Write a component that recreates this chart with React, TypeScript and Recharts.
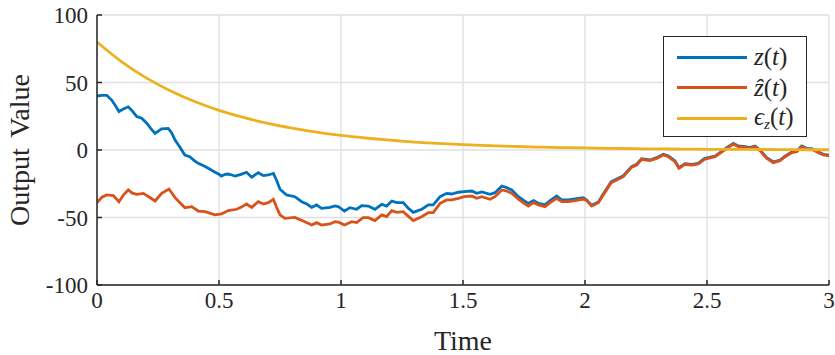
import React from 'react';
import { LineChart, Line, XAxis, YAxis, CartesianGrid, Legend } from 'recharts';

const xTicks = [0, 0.5, 1, 1.5, 2, 2.5, 3];
const yTicks = [-100, -50, 0, 50, 100];

const zT = [0, 0.02, 0.04, 0.06, 0.075, 0.09, 0.108, 0.128, 0.142, 0.163, 0.183, 0.204, 0.22, 0.238, 0.265, 0.292, 0.305, 0.32, 0.34, 0.36, 0.38, 0.4, 0.415, 0.443, 0.465, 0.484, 0.5, 0.51, 0.525, 0.538, 0.552, 0.566, 0.59, 0.613, 0.634, 0.661, 0.682, 0.702, 0.723, 0.735, 0.75, 0.777, 0.811, 0.839, 0.86, 0.88, 0.9, 0.92, 0.955, 0.975, 0.99, 1.014, 1.037, 1.064, 1.085, 1.112, 1.139, 1.167, 1.187, 1.208, 1.228, 1.255, 1.275, 1.296, 1.331, 1.358, 1.378, 1.406, 1.433, 1.454, 1.481, 1.505, 1.536, 1.556, 1.577, 1.611, 1.631, 1.659, 1.679, 1.7, 1.727, 1.75, 1.768, 1.789, 1.809, 1.836, 1.857, 1.884, 1.904, 1.932, 1.959, 1.993, 2.007, 2.027, 2.055, 2.075, 2.107, 2.13, 2.157, 2.191, 2.212, 2.232, 2.266, 2.294, 2.321, 2.342, 2.369, 2.385, 2.41, 2.437, 2.464, 2.489, 2.505, 2.533, 2.553, 2.581, 2.608, 2.628, 2.656, 2.675, 2.697, 2.717, 2.745, 2.772, 2.799, 2.82, 2.847, 2.868, 2.888, 2.909, 2.929, 2.957, 2.977, 3.0];
const zV = [40, 40.5, 40.5, 37, 33, 28.5, 30.4, 32, 29.5, 24.7, 23.5, 19.8, 16, 12.3, 15.6, 16, 13, 7.4, 2, -3.7, -5, -8, -9.9, -12.3, -14.5, -16.5, -18, -19.3, -18, -17.8, -18.5, -19.3, -18, -16.5, -20.2, -16.8, -19, -18.5, -17.3, -22, -29.1, -33.3, -34.6, -38.3, -40, -42.5, -40.7, -43.2, -42.5, -41.5, -42, -45.2, -42.7, -43.9, -41.2, -41.5, -43.9, -40.2, -41.5, -37.8, -39, -39, -43, -46.2, -43.9, -40.7, -40.7, -34.6, -32.1, -32.6, -31.3, -30.9, -30.4, -32.1, -31.1, -32.8, -31.6, -26.7, -27.9, -29.6, -34.6, -37.5, -39.5, -37.5, -39.5, -40.7, -37.5, -34.1, -37, -37, -36.3, -35.3, -37, -41, -38.5, -32.5, -23.5, -21.5, -19, -12.3, -10.5, -6.5, -7.4, -5.7, -3.2, -4.5, -8.1, -13.1, -10.1, -10.6, -9.9, -6.4, -5.7, -4.5, -2, 1.7, 4.9, 3, 2.5, 1.7, 3, 0, -5.7, -8.9, -7.4, -4.5, -1.5, -0.7, 3, 1.2, 1, -1.5, -3.2, -3.9];

const zhT = [0, 0.02, 0.04, 0.067, 0.09, 0.11, 0.128, 0.145, 0.163, 0.19, 0.215, 0.238, 0.265, 0.295, 0.32, 0.34, 0.36, 0.388, 0.415, 0.443, 0.465, 0.484, 0.51, 0.538, 0.572, 0.59, 0.613, 0.634, 0.661, 0.682, 0.702, 0.723, 0.735, 0.75, 0.77, 0.811, 0.852, 0.88, 0.9, 0.92, 0.955, 0.975, 0.99, 1.014, 1.044, 1.064, 1.091, 1.112, 1.139, 1.167, 1.187, 1.208, 1.228, 1.255, 1.275, 1.296, 1.331, 1.358, 1.378, 1.406, 1.433, 1.454, 1.481, 1.505, 1.536, 1.556, 1.577, 1.611, 1.631, 1.659, 1.679, 1.7, 1.727, 1.75, 1.768, 1.789, 1.809, 1.836, 1.857, 1.884, 1.904, 1.932, 1.959, 1.993, 2.007, 2.027, 2.055, 2.075, 2.107, 2.13, 2.157, 2.191, 2.212, 2.232, 2.266, 2.294, 2.321, 2.342, 2.369, 2.385, 2.41, 2.437, 2.464, 2.489, 2.505, 2.533, 2.553, 2.581, 2.608, 2.628, 2.656, 2.675, 2.697, 2.717, 2.745, 2.772, 2.799, 2.82, 2.847, 2.868, 2.888, 2.909, 2.929, 2.957, 2.977, 3.0];
const zhV = [-39, -35, -33.3, -33.8, -38.3, -33, -29.6, -32, -32.8, -32.1, -35, -37.8, -32.1, -28.9, -35.3, -39, -42.7, -42, -45.2, -45.7, -47, -48.1, -47.4, -44.9, -43.9, -42.5, -40, -42.5, -38.3, -40, -39, -36.5, -42, -48.1, -50.6, -49.9, -53.1, -55.6, -53.8, -55.6, -54.8, -53.1, -53.5, -55.6, -53.1, -53.8, -50.1, -50.1, -52.3, -48.1, -49.4, -44.9, -46.2, -45.7, -49, -52.3, -49.4, -46.4, -46.4, -39.5, -37, -37, -35.8, -34.6, -34.1, -35.8, -34.6, -36.5, -34.6, -29.6, -30.4, -32.1, -36.5, -39.5, -41.5, -39, -40.7, -42, -39, -35.8, -38.3, -38.3, -37.5, -36.3, -37.5, -41.5, -39, -33.3, -24.2, -22.2, -19.8, -12.8, -11.1, -6.9, -7.9, -6.2, -3.7, -5, -8.6, -13.6, -10.6, -11.1, -10.4, -6.9, -6.2, -5, -2.5, 1.2, 4.4, 2.5, 2, 1.2, 2.5, -0.5, -6.2, -9.4, -7.9, -5, -2, -1.2, 2.5, 0.7, 0.5, -2, -3.7, -4.4];

const eT = [0, 0.1, 0.2, 0.3, 0.4, 0.5, 0.6, 0.7, 0.8, 0.9, 1.0, 1.1, 1.2, 1.3, 1.4, 1.5, 1.6, 1.7, 1.8, 1.9, 2.0, 2.1, 2.2, 2.3, 2.4, 2.5, 2.6, 2.7, 2.8, 2.9, 3.0];
const eV = [80, 65.5, 53.6, 43.9, 35.9, 29.4, 24.1, 19.7, 16.2, 13.2, 10.8, 8.9, 7.3, 5.9, 4.9, 4.0, 3.3, 2.7, 2.2, 1.8, 1.5, 1.2, 1.0, 0.8, 0.7, 0.5, 0.4, 0.4, 0.3, 0.2, 0.2];

const zData = zT.map((t, i) => ({ t, v: zV[i] }));
const zhData = zhT.map((t, i) => ({ t, v: zhV[i] }));
const eData = eT.map((t, i) => ({ t, v: eV[i] }));

const BLUE = '#0072BD';
const ORANGE = '#D95319';
const YELLOW = '#EDB120';
const AXIS = '#262626';
const FONT = '"Liberation Serif", "DejaVu Serif", serif';

const legendItems = [
  { color: BLUE, label: <><i>z</i>(<i>t</i>)</> },
  { color: ORANGE, label: <><i>ẑ</i>(<i>t</i>)</> },
  { color: YELLOW, label: <><i>ϵ</i><sub style={{ fontSize: 15, fontStyle: 'italic', verticalAlign: 'baseline', position: 'relative', top: 4 }}>z</sub>(<i>t</i>)</> },
];

const LegendBox = () => (
  <div
    style={{
      width: 142,
      height: 99,
      border: `1.5px solid ${AXIS}`,
      background: '#fff',
      fontFamily: FONT,
      fontSize: 25,
      color: AXIS,
      boxSizing: 'content-box',
    }}
  >
    {legendItems.map((it, i) => (
      <div key={i} style={{ display: 'flex', alignItems: 'center', height: 30.5, marginTop: i === 0 ? 5 : 0, fontFamily: FONT }}>
        <div style={{ marginLeft: 13, width: 70, height: 3, background: it.color }} />
        <div style={{ marginLeft: 7, lineHeight: '30px', whiteSpace: 'nowrap', fontFamily: FONT }}>{it.label}</div>
      </div>
    ))}
  </div>
);

export default function App() {
  return (
    <div style={{ position: 'absolute', left: 0, top: 0, background: '#fff' }}>
      <LineChart width={835} height={355} margin={{ top: 15, right: 6, bottom: 0, left: 0 }}>
        <CartesianGrid stroke="#dfdfdf" strokeWidth={1.3} horizontalValues={yTicks} verticalValues={xTicks} />
        <XAxis
          type="number"
          dataKey="t"
          domain={[0, 3]}
          ticks={xTicks}
          allowDataOverflow
          height={70}
          stroke={AXIS}
          strokeWidth={1.5}
          tickSize={-5}
          tickMargin={12}
          tick={{ fill: AXIS, fontFamily: FONT, fontSize: 23 }}
          label={{ value: 'Time', position: 'insideBottom', offset: 5, fill: AXIS, fontFamily: FONT, fontSize: 28 }}
        />
        <YAxis
          type="number"
          domain={[-100, 100]}
          ticks={yTicks}
          allowDataOverflow
          width={97}
          stroke={AXIS}
          strokeWidth={1.5}
          tickSize={-5}
          tickMargin={14}
          tick={{ fill: AXIS, fontFamily: FONT, fontSize: 23 }}
          label={{ value: 'Output Value', angle: -90, position: 'insideLeft', offset: 19, fill: AXIS, fontFamily: FONT, fontSize: 28, style: { textAnchor: 'middle', wordSpacing: 4 } }}
        />
        <Legend
          layout="vertical"
          align="center"
          verticalAlign="middle"
          wrapperStyle={{ position: 'absolute', left: 663, top: 36, width: 'auto', height: 'auto' }}
          content={() => <LegendBox />}
        />
        <Line data={zData} dataKey="v" type="linear" stroke={BLUE} strokeWidth={2.8} dot={false} isAnimationActive={false} name="z" />
        <Line data={zhData} dataKey="v" type="linear" stroke={ORANGE} strokeWidth={2.8} dot={false} isAnimationActive={false} name="zhat" />
        <Line data={eData} dataKey="v" type="monotone" stroke={YELLOW} strokeWidth={2.8} dot={false} isAnimationActive={false} name="eps" />
      </LineChart>
    </div>
  );
}
